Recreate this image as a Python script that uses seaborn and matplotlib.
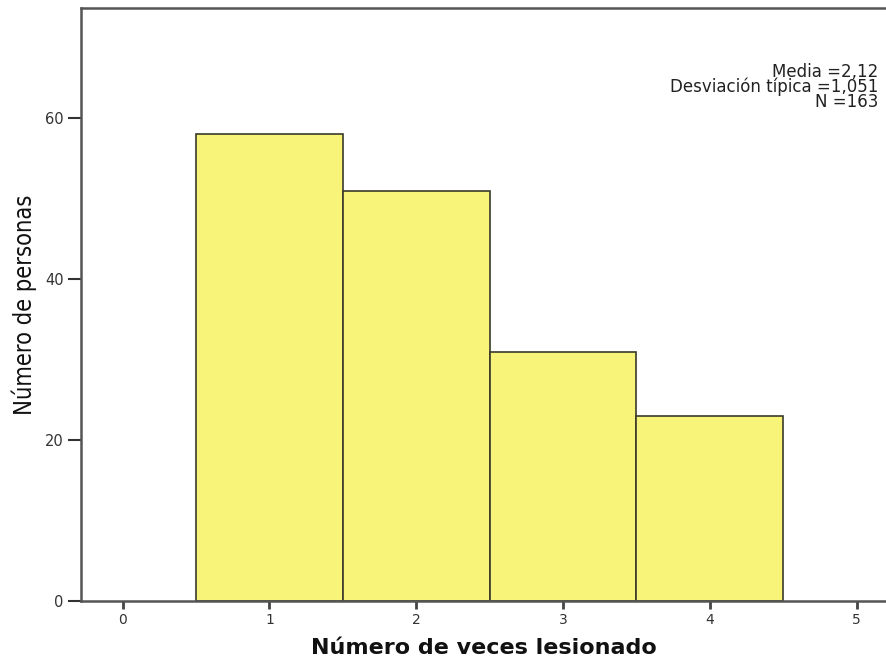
import matplotlib
matplotlib.use("Agg")
import matplotlib.pyplot as plt
import seaborn as sns

# Data
veces = [1, 2, 3, 4]
personas = [58, 51, 31, 23]
x_ticks = [0, 1, 2, 3, 4, 5]
y_ticks = [0, 20, 40, 60]
stats_text = "Media =2,12\nDesviación típica =1,051\nN =163"

sns.set_style("white")
plt.rcParams['font.family'] = ['DejaVu Sans']

fig = plt.figure(figsize=(8.86, 6.58), dpi=100)
ax = fig.add_axes([81/886, 1 - 601/658, 1 - 81/886, (601 - 8)/658])

sns.histplot(x=veces, weights=personas, discrete=True, ax=ax,
             color="#F8F47A", edgecolor="#3a3a2a", linewidth=1.2, alpha=1)

ax.set_xlim(-0.284, 5.2)
ax.set_ylim(0, 73.7)
ax.set_xticks(x_ticks)
ax.set_yticks(y_ticks)
ax.tick_params(axis='x', bottom=True, direction='out', length=5.5, width=2,
               color='#444444', labelsize=10, labelcolor='#333333', pad=3)
ax.tick_params(axis='y', left=True, direction='out', length=9.5, width=1.5,
               color='#333333', labelsize=10.5, labelcolor='#333333', pad=3)

for s in ['left', 'bottom', 'top']:
    ax.spines[s].set_color('#555555')
    ax.spines[s].set_linewidth(1.8)
ax.spines['right'].set_visible(False)

ax.set_xlabel("Número de veces lesionado", fontsize=16, fontweight='bold',
              color='#111111', labelpad=8)
ax.set_ylabel("Número de personas", fontsize=17, fontstretch='condensed',
              color='#111111', labelpad=6)

ax.text(878, 658 - 63, stats_text, transform=None, ha='right', va='top',
        fontsize=12, color='#222222', linespacing=0.76, multialignment='right')

fig.savefig("out.png", dpi=100, facecolor='white')
